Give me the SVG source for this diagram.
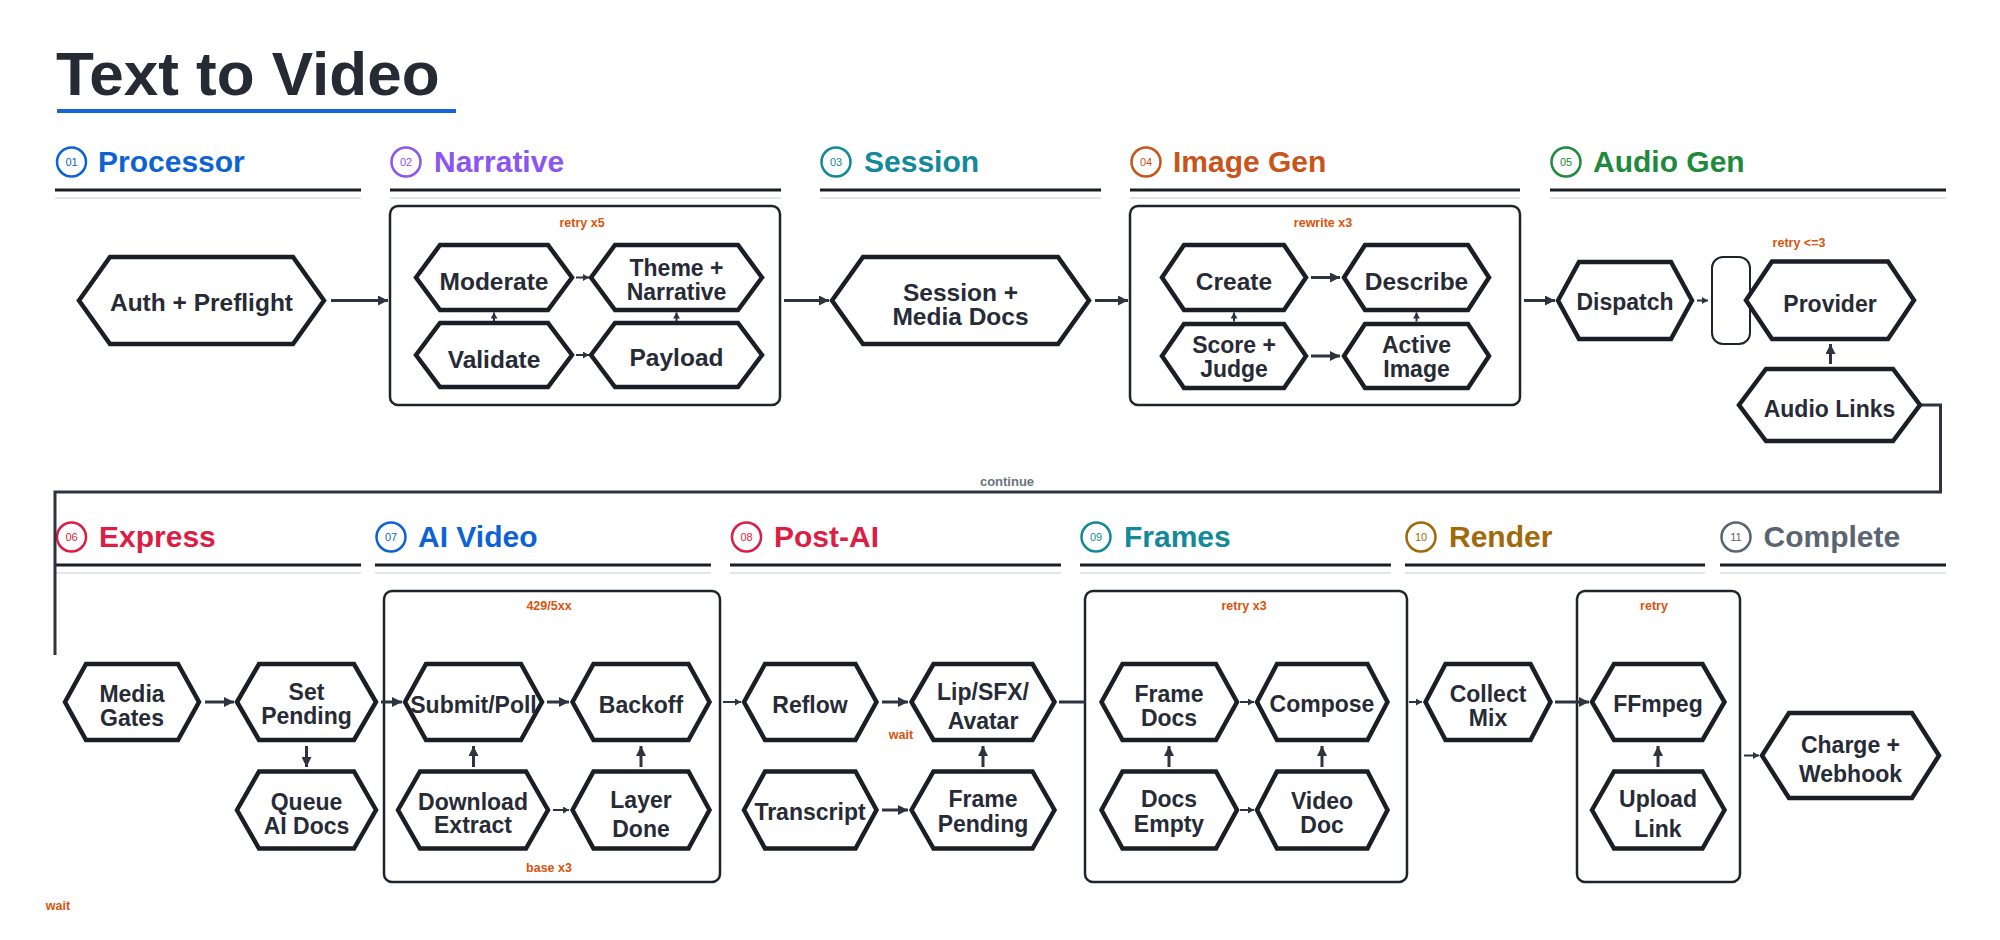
<svg xmlns="http://www.w3.org/2000/svg" width="2000" height="940" viewBox="0 0 2000 940">
<defs>
<style>
.title{font-family:"Liberation Sans",Arial,sans-serif;font-weight:700;font-size:62px;fill:#252a33}
.hd{font-family:"Liberation Sans",Arial,sans-serif;font-weight:700;font-size:30px}
.num{font-family:"Liberation Sans",Arial,sans-serif;font-size:11px;text-anchor:middle}
.hline{stroke:#1b1e25;stroke-width:3}
.lline{stroke:#d9dde3;stroke-width:1.5}
.node polygon{fill:#fff;stroke:#1b1e25;stroke-width:4.5;stroke-linejoin:miter}
.nt{font-family:"Liberation Sans",Arial,sans-serif;font-weight:700;font-size:23px;fill:#262b36;text-anchor:middle}
.big{font-size:24.5px}
.grp{fill:none;stroke:#1f232b;stroke-width:2.5}
.lbl{font-family:"Liberation Sans",Arial,sans-serif;font-weight:700;font-size:12.5px;fill:#d9540c;text-anchor:middle}
.cl{font-family:"Liberation Sans",Arial,sans-serif;font-weight:700;font-size:13px;fill:#6b7280;text-anchor:middle}
.conn{stroke:#2d3440;stroke-width:3;fill:none}
.thin{stroke:#2d3440;stroke-width:2;fill:none}
</style>
<marker id="ah" markerUnits="userSpaceOnUse" markerWidth="12" markerHeight="10" refX="10" refY="5" orient="auto"><path d="M0,0 L10,5 L0,10 Z" fill="#2d3440"/></marker>
<marker id="as" markerUnits="userSpaceOnUse" markerWidth="7" markerHeight="7" refX="6" refY="3.5" orient="auto"><path d="M0,0 L6,3.5 L0,7 Z" fill="#2d3440"/></marker>
</defs>
<rect width="2000" height="940" fill="#fff"/>

<text class="title" x="56" y="95">Text to Video</text>
<rect x="57" y="109" width="399" height="4" fill="#1565d8"/>

<g id="headers">
<g id="h01"><circle cx="71.5" cy="162" r="14.5" fill="none" stroke="#0e63d4" stroke-width="2.5"/><text class="num" x="71.5" y="166" fill="#0e63d4">01</text><text class="hd" x="98" y="172" fill="#0e63d4">Processor</text><line class="hline" x1="55" y1="190" x2="361" y2="190"/><line class="lline" x1="55" y1="198" x2="361" y2="198"/></g>
<g id="h02"><circle cx="406" cy="162" r="14.5" fill="none" stroke="#8b55f0" stroke-width="2.5"/><text class="num" x="406" y="166" fill="#8b55f0">02</text><text class="hd" x="434" y="172" fill="#8b55f0">Narrative</text><line class="hline" x1="390" y1="190" x2="781" y2="190"/><line class="lline" x1="390" y1="198" x2="781" y2="198"/></g>
<g id="h03"><circle cx="836" cy="162" r="14.5" fill="none" stroke="#128a99" stroke-width="2.5"/><text class="num" x="836" y="166" fill="#128a99">03</text><text class="hd" x="864" y="172" fill="#128a99">Session</text><line class="hline" x1="820" y1="190" x2="1101" y2="190"/><line class="lline" x1="820" y1="198" x2="1101" y2="198"/></g>
<g id="h04"><circle cx="1146" cy="162" r="14.5" fill="none" stroke="#c9541a" stroke-width="2.5"/><text class="num" x="1146" y="166" fill="#c9541a">04</text><text class="hd" x="1173" y="172" fill="#c9541a">Image Gen</text><line class="hline" x1="1130" y1="190" x2="1520" y2="190"/><line class="lline" x1="1130" y1="198" x2="1520" y2="198"/></g>
<g id="h05"><circle cx="1566" cy="162" r="14.5" fill="none" stroke="#1e8a3c" stroke-width="2.5"/><text class="num" x="1566" y="166" fill="#1e8a3c">05</text><text class="hd" x="1593" y="172" fill="#1e8a3c">Audio Gen</text><line class="hline" x1="1550" y1="190" x2="1946" y2="190"/><line class="lline" x1="1550" y1="198" x2="1946" y2="198"/></g>
<g id="h06"><circle cx="71.5" cy="537" r="14.5" fill="none" stroke="#dc1e46" stroke-width="2.5"/><text class="num" x="71.5" y="541" fill="#dc1e46">06</text><text class="hd" x="99" y="547" fill="#dc1e46">Express</text><line class="hline" x1="55" y1="565" x2="361" y2="565"/><line class="lline" x1="55" y1="573" x2="361" y2="573"/></g>
<g id="h07"><circle cx="391" cy="537" r="14.5" fill="none" stroke="#0e63d4" stroke-width="2.5"/><text class="num" x="391" y="541" fill="#0e63d4">07</text><text class="hd" x="418" y="547" fill="#0e63d4">AI Video</text><line class="hline" x1="375" y1="565" x2="711" y2="565"/><line class="lline" x1="375" y1="573" x2="711" y2="573"/></g>
<g id="h08"><circle cx="746.5" cy="537" r="14.5" fill="none" stroke="#dc1e46" stroke-width="2.5"/><text class="num" x="746.5" y="541" fill="#dc1e46">08</text><text class="hd" x="774" y="547" fill="#dc1e46">Post-AI</text><line class="hline" x1="730" y1="565" x2="1061" y2="565"/><line class="lline" x1="730" y1="573" x2="1061" y2="573"/></g>
<g id="h09"><circle cx="1096" cy="537" r="14.5" fill="none" stroke="#128a99" stroke-width="2.5"/><text class="num" x="1096" y="541" fill="#128a99">09</text><text class="hd" x="1124" y="547" fill="#128a99">Frames</text><line class="hline" x1="1080" y1="565" x2="1391" y2="565"/><line class="lline" x1="1080" y1="573" x2="1391" y2="573"/></g>
<g id="h10"><circle cx="1421" cy="537" r="14.5" fill="none" stroke="#a0690a" stroke-width="2.5"/><text class="num" x="1421" y="541" fill="#a0690a">10</text><text class="hd" x="1449" y="547" fill="#a0690a">Render</text><line class="hline" x1="1405" y1="565" x2="1705" y2="565"/><line class="lline" x1="1405" y1="573" x2="1705" y2="573"/></g>
<g id="h11"><circle cx="1736" cy="537" r="14.5" fill="none" stroke="#5b6472" stroke-width="2.5"/><text class="num" x="1736" y="541" fill="#5b6472">11</text><text class="hd" x="1763.5" y="547" fill="#5b6472">Complete</text><line class="hline" x1="1720" y1="565" x2="1946" y2="565"/><line class="lline" x1="1720" y1="573" x2="1946" y2="573"/></g>
</g>

<g id="groups">
<rect id="g-narrative" class="grp" x="390" y="206" width="390" height="199" rx="8"/>
<text class="lbl" x="582" y="227">retry x5</text>
<rect id="g-image" class="grp" x="1130" y="206" width="390" height="199" rx="8"/>
<text class="lbl" x="1323" y="227">rewrite x3</text>
<rect id="g-ai" class="grp" x="384" y="591" width="336" height="291" rx="8"/>
<text class="lbl" x="549" y="610">429/5xx</text>
<text class="lbl" x="549" y="872">base x3</text>
<rect id="g-frames" class="grp" x="1085" y="591" width="322" height="291" rx="8"/>
<text class="lbl" x="1244" y="609.5">retry x3</text>
<rect id="g-render" class="grp" x="1577" y="591" width="163" height="291" rx="8"/>
<text class="lbl" x="1654" y="610">retry</text>
</g>

<g id="connectors">
<line class="conn" x1="331" y1="300.5" x2="388" y2="300.5" marker-end="url(#ah)"/>
<line class="conn" x1="784" y1="300.5" x2="829" y2="300.5" marker-end="url(#ah)"/>
<line class="conn" x1="1095" y1="300.5" x2="1128" y2="300.5" marker-end="url(#ah)"/>
<line class="conn" x1="1524" y1="300.5" x2="1555" y2="300.5" marker-end="url(#ah)"/>
<line class="thin" x1="1697" y1="300.5" x2="1708" y2="300.5" marker-end="url(#as)"/>
<line class="conn" x1="1830.5" y1="364" x2="1830.5" y2="344" marker-end="url(#ah)"/>
<line class="thin" x1="576" y1="277.5" x2="589" y2="277.5" marker-end="url(#as)"/>
<line class="thin" x1="576" y1="355" x2="589" y2="355" marker-end="url(#as)"/>
<line class="thin" x1="494" y1="321" x2="494" y2="312.5" marker-end="url(#as)"/>
<line class="thin" x1="676.5" y1="321" x2="676.5" y2="312.5" marker-end="url(#as)"/>
<line class="conn" x1="1311" y1="277.5" x2="1340" y2="277.5" marker-end="url(#ah)"/>
<line class="conn" x1="1311" y1="356" x2="1340" y2="356" marker-end="url(#ah)"/>
<line class="thin" x1="1234" y1="321.5" x2="1234" y2="312.5" marker-end="url(#as)"/>
<line class="thin" x1="1416.5" y1="321.5" x2="1416.5" y2="312.5" marker-end="url(#as)"/>
<polyline class="conn" points="1920,405 1940.5,405 1940.5,492 55,492 55,655"/>
<text class="cl" x="1007" y="485.5">continue</text>
<line class="conn" x1="205" y1="702" x2="234" y2="702" marker-end="url(#ah)"/>
<line class="conn" x1="306.5" y1="746" x2="306.5" y2="767" marker-end="url(#ah)"/>
<line class="conn" x1="381" y1="702" x2="402" y2="702" marker-end="url(#ah)"/>
<line class="conn" x1="547" y1="702" x2="569" y2="702" marker-end="url(#ah)"/>
<line class="conn" x1="473.5" y1="767" x2="473.5" y2="746" marker-end="url(#ah)"/>
<line class="conn" x1="641" y1="767" x2="641" y2="746" marker-end="url(#ah)"/>
<line class="thin" x1="553" y1="810" x2="569" y2="810" marker-end="url(#as)"/>
<line class="thin" x1="723" y1="702" x2="741" y2="702" marker-end="url(#as)"/>
<line class="conn" x1="882" y1="702" x2="908" y2="702" marker-end="url(#ah)"/>
<line class="conn" x1="882" y1="810" x2="908" y2="810" marker-end="url(#ah)"/>
<line class="conn" x1="983" y1="767" x2="983" y2="746" marker-end="url(#ah)"/>
<line class="conn" x1="1059" y1="702" x2="1085" y2="702"/>
<line class="thin" x1="1240" y1="702" x2="1254" y2="702" marker-end="url(#as)"/>
<line class="thin" x1="1240" y1="810" x2="1254" y2="810" marker-end="url(#as)"/>
<line class="conn" x1="1169" y1="767" x2="1169" y2="746" marker-end="url(#ah)"/>
<line class="conn" x1="1322" y1="767" x2="1322" y2="746" marker-end="url(#ah)"/>
<line class="thin" x1="1409" y1="702" x2="1422" y2="702" marker-end="url(#as)"/>
<line class="conn" x1="1555" y1="702" x2="1589" y2="702" marker-end="url(#ah)"/>
<line class="conn" x1="1658" y1="767" x2="1658" y2="746" marker-end="url(#ah)"/>
<line class="thin" x1="1744" y1="755.5" x2="1759" y2="755.5" marker-end="url(#as)"/>
<text class="lbl" x="901" y="739">wait</text>
<text class="lbl" x="58" y="910">wait</text>
<text class="lbl" x="1799" y="247">retry &lt;=3</text>
</g>

<g id="n-auth" class="node"><polygon points="79,300.5 110,257 293,257 324,300.5 293,344 110,344"/><text class="nt big" x="201.5" y="310.5">Auth + Preflight</text></g>
<g id="n-moderate" class="node"><polygon points="416,277.5 440,245 548,245 572,277.5 548,310 440,310"/><text class="nt big" x="494" y="289.5">Moderate</text></g>
<g id="n-theme" class="node"><polygon points="591,277.5 615,245 738,245 762,277.5 738,310 615,310"/><text class="nt" x="676.5" y="276">Theme +</text><text class="nt" x="676.5" y="300">Narrative</text></g>
<g id="n-validate" class="node"><polygon points="416,355 440,323 548,323 572,355 548,387 440,387"/><text class="nt big" x="494" y="367.5">Validate</text></g>
<g id="n-payload" class="node"><polygon points="591,355 615,323 738,323 762,355 738,387 615,387"/><text class="nt big" x="676.5" y="365.5">Payload</text></g>
<g id="n-session" class="node"><polygon points="832,300.5 863,257 1058,257 1089,300.5 1058,344 863,344"/><text class="nt big" x="960.5" y="300.5">Session +</text><text class="nt big" x="960.5" y="325">Media Docs</text></g>
<g id="n-create" class="node"><polygon points="1162,277.5 1184,245 1284,245 1306,277.5 1284,310 1184,310"/><text class="nt big" x="1234" y="290">Create</text></g>
<g id="n-describe" class="node"><polygon points="1344,277.5 1365,245 1468,245 1489,277.5 1468,310 1365,310"/><text class="nt big" x="1416.5" y="290">Describe</text></g>
<g id="n-score" class="node"><polygon points="1162,356 1184,324 1284,324 1306,356 1284,388 1184,388"/><text class="nt" x="1234" y="352.5">Score +</text><text class="nt" x="1234" y="376.5">Judge</text></g>
<g id="n-active" class="node"><polygon points="1344,356 1365,324 1468,324 1489,356 1468,388 1365,388"/><text class="nt" x="1416.5" y="352.5">Active</text><text class="nt" x="1416.5" y="376.5">Image</text></g>
<g id="n-dispatch" class="node"><polygon points="1558,300.5 1579,262 1671,262 1692,300.5 1671,339 1579,339"/><text class="nt" x="1625" y="310">Dispatch</text></g>
<g id="n-pill"><rect x="1712" y="257" width="38" height="87" rx="11" fill="#fff" stroke="#1f232b" stroke-width="2"/></g>
<g id="n-provider" class="node"><polygon points="1746,300.3 1772,261.5 1888,261.5 1914,300.3 1888,339 1772,339"/><text class="nt" x="1830" y="311.5">Provider</text></g>
<g id="n-audiolinks" class="node"><polygon points="1739,405 1766,369 1893,369 1920,405 1893,441 1766,441"/><text class="nt" x="1829.5" y="416.5">Audio Links</text></g>

<g id="n-mediagates" class="node"><polygon points="65,702 86,664 178,664 199,702 178,740 86,740"/><text class="nt" x="132" y="701.5">Media</text><text class="nt" x="132" y="726">Gates</text></g>
<g id="n-setpending" class="node"><polygon points="237,702 259,664 354,664 376,702 354,740 259,740"/><text class="nt" x="306.5" y="700">Set</text><text class="nt" x="306.5" y="724.3">Pending</text></g>
<g id="n-queue" class="node"><polygon points="237,810 259,771.5 354,771.5 376,810 354,848.5 259,848.5"/><text class="nt" x="306.5" y="810">Queue</text><text class="nt" x="306.5" y="834.3">AI Docs</text></g>
<g id="n-submit" class="node"><polygon points="405,702 426,664 521,664 542,702 521,740 426,740"/><text class="nt" x="473.5" y="713">Submit/Poll</text></g>
<g id="n-backoff" class="node"><polygon points="572.5,702 593.5,664 688.5,664 709.5,702 688.5,740 593.5,740"/><text class="nt" x="641" y="713">Backoff</text></g>
<g id="n-download" class="node"><polygon points="398,810 420,771.5 526,771.5 548,810 526,848.5 420,848.5"/><text class="nt" x="473" y="810">Download</text><text class="nt" x="473" y="833.3">Extract</text></g>
<g id="n-layer" class="node"><polygon points="572.5,810 593.5,771.5 688.5,771.5 709.5,810 688.5,848.5 593.5,848.5"/><text class="nt" x="641" y="808">Layer</text><text class="nt" x="641" y="836.5">Done</text></g>
<g id="n-reflow" class="node"><polygon points="744,702 765,664 855.5,664 876.5,702 855.5,740 765,740"/><text class="nt" x="810" y="713.3">Reflow</text></g>
<g id="n-lip" class="node"><polygon points="911.5,702 933.5,664 1032.5,664 1054.5,702 1032.5,740 933.5,740"/><text class="nt" x="983" y="700">Lip/SFX/</text><text class="nt" x="983" y="729">Avatar</text></g>
<g id="n-transcript" class="node"><polygon points="744,810 765,771.5 855.5,771.5 876.5,810 855.5,848.5 765,848.5"/><text class="nt" x="810" y="820">Transcript</text></g>
<g id="n-framepending" class="node"><polygon points="911.5,810 933.5,771.5 1032.5,771.5 1054.5,810 1032.5,848.5 933.5,848.5"/><text class="nt" x="983" y="807">Frame</text><text class="nt" x="983" y="832">Pending</text></g>
<g id="n-framedocs" class="node"><polygon points="1101.5,702 1122.5,664 1216,664 1237,702 1216,740 1122.5,740"/><text class="nt" x="1169" y="701.5">Frame</text><text class="nt" x="1169" y="726">Docs</text></g>
<g id="n-compose" class="node"><polygon points="1257,702 1277,664 1367.5,664 1387.5,702 1367.5,740 1277,740"/><text class="nt" x="1322" y="712.3">Compose</text></g>
<g id="n-docsempty" class="node"><polygon points="1101.5,810 1122.5,771.5 1216,771.5 1237,810 1216,848.5 1122.5,848.5"/><text class="nt" x="1169" y="807">Docs</text><text class="nt" x="1169" y="831.7">Empty</text></g>
<g id="n-videodoc" class="node"><polygon points="1257,810 1277,771.5 1367.5,771.5 1387.5,810 1367.5,848.5 1277,848.5"/><text class="nt" x="1322" y="809">Video</text><text class="nt" x="1322" y="833.3">Doc</text></g>
<g id="n-collect" class="node"><polygon points="1425.5,702 1445.5,664 1530.5,664 1550.5,702 1530.5,740 1445.5,740"/><text class="nt" x="1488" y="701.5">Collect</text><text class="nt" x="1488" y="726">Mix</text></g>
<g id="n-ffmpeg" class="node"><polygon points="1592,702 1614,664 1702.5,664 1724.5,702 1702.5,740 1614,740"/><text class="nt" x="1658" y="712.3">FFmpeg</text></g>
<g id="n-upload" class="node"><polygon points="1592,810 1614,771.5 1702.5,771.5 1724.5,810 1702.5,848.5 1614,848.5"/><text class="nt" x="1658" y="806.7">Upload</text><text class="nt" x="1658" y="836.5">Link</text></g>
<g id="n-charge" class="node"><polygon points="1762,755.5 1789,713 1912,713 1939,755.5 1912,798 1789,798"/><text class="nt" x="1850.5" y="753.3">Charge +</text><text class="nt" x="1850.5" y="781.7">Webhook</text></g>
</svg>
